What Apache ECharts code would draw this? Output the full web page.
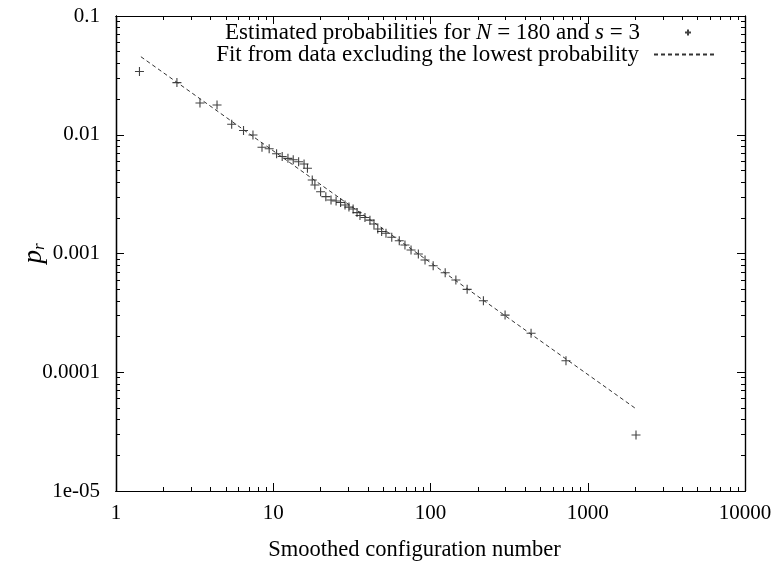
<!DOCTYPE html>
<html lang="en">

<head>
    <meta charset="UTF-8">
    <title>Smoothed configuration probabilities</title>
    <script src="https://cdn.jsdelivr.net/npm/echarts@6.0.0/dist/echarts.min.js"></script>
    <style>
        html, body { margin: 0; padding: 0; background: #fff; }
        #chart { width: 778px; height: 566px; }
    </style>
</head>

<body>
    <div id="chart"></div>

    <script>
    // estimated probabilities
    const configNumber = [1.41, 2.44, 3.42, 4.39, 5.44, 6.47, 7.43, 8.48, 9.42, 10.5, 11.4, 12.4, 13.4, 14.5,
        15.7, 16.5, 17.7, 18.4, 20.0, 21.6, 23.3, 25.1, 26.8, 28.6, 30.3, 32.2, 34.1, 35.6, 38.3, 41.2,
        43.7, 46.2, 48.9, 52.1, 56.7, 63.3, 68.8, 75.2, 83.7, 92.3, 104, 124, 145, 171, 217, 298, 436, 727, 2027];
    const probability = [0.0341, 0.0275, 0.0185, 0.0178, 0.01225, 0.01086, 0.00995, 0.00784, 0.00763, 0.00692,
        0.00656, 0.00633, 0.00616, 0.00593, 0.00567, 0.00522, 0.00416, 0.00377, 0.00331, 0.00301, 0.00282,
        0.00277, 0.00269, 0.00256, 0.00246, 0.00237, 0.00221, 0.00209, 0.00201, 0.00191, 0.00177, 0.00161,
        0.00153, 0.00148, 0.00137, 0.00128, 0.00118, 0.00107, 0.00099, 0.000881, 0.000789, 0.000689,
        0.000598, 0.000499, 0.000400, 0.000303, 0.000213, 0.000125, 0.0000296];

    // fitted power law, end points
    const fitX = [1.44, 2007];
    const fitY = [0.0454, 0.0000497];

    const xTicks = [1, 10, 100, 1000, 10000];
    const xTickLabels = ['1', '10', '100', '1000', '10000'];
    const yTicks = [0.00001, 0.0001, 0.001, 0.01, 0.1];
    const yTickLabels = ['1e-05', '0.0001', '0.001', '0.01', '0.1'];

    // tick positions in log10 space (for the plain value axes that draw the ticks)
    function majorLog(decades) {
        return decades.map(d => Math.log10(d));
    }
    function minorLog(decades) {
        let out = [];
        for (let i = 0; i < decades.length - 1; i++) {
            for (let k = 2; k < 10; k++) out.push(Math.log10(decades[i]) + Math.log10(k));
        }
        return out;
    }

    function tickLabel(ticks, labels) {
        return function (v) {
            for (let i = 0; i < ticks.length; i++) {
                if (Math.abs(Math.log10(ticks[i]) - Math.log10(v)) < 1e-6) return labels[i];
            }
            return '';
        };
    }

    const font = 'Liberation Serif';
    const black = '#000';

    function tickAxis(decades, pos, ticks, len) {
        return {
            type: 'value',
            gridIndex: 0,
            position: pos,
            min: Math.log10(decades[0]),
            max: Math.log10(decades[decades.length - 1]),
            axisLine: { show: true, onZero: false, lineStyle: { color: black, width: 1.2 } },
            axisTick: { show: true, inside: true, length: len, customValues: ticks, lineStyle: { color: black, width: 1 } },
            axisLabel: { show: false },
            splitLine: { show: false }
        };
    }

    const xAxes = [
        {
            type: 'log',
            logBase: 10,
            gridIndex: 0,
            position: 'bottom',
            min: xTicks[0],
            max: xTicks[xTicks.length - 1],
            axisLine: { show: true, lineStyle: { color: black, width: 1.2 } },
            axisTick: { show: false },
            splitLine: { show: false },
            axisLabel: {
                customValues: xTicks,
                formatter: tickLabel(xTicks, xTickLabels),
                fontFamily: font, fontSize: 21, color: black, margin: 12
            },
            name: 'Smoothed configuration number',
            nameLocation: 'middle',
            nameGap: 48,
            nameTextStyle: { fontFamily: font, fontSize: 22.5, color: black, padding: [0, 32, 0, 0] }
        },
        tickAxis(xTicks, 'bottom', majorLog(xTicks), 8),
        tickAxis(xTicks, 'bottom', minorLog(xTicks), 4),
        tickAxis(xTicks, 'top', majorLog(xTicks), 8),
        tickAxis(xTicks, 'top', minorLog(xTicks), 4)
    ];

    const yAxes = [
        {
            type: 'log',
            logBase: 10,
            gridIndex: 0,
            position: 'left',
            min: yTicks[0],
            max: yTicks[yTicks.length - 1],
            axisLine: { show: true, lineStyle: { color: black, width: 1.2 } },
            axisTick: { show: false },
            splitLine: { show: false },
            axisLabel: {
                customValues: yTicks,
                formatter: tickLabel(yTicks, yTickLabels),
                fontFamily: font, fontSize: 21, color: black, margin: 16
            },
            name: '{p|p}{r|r}',
            nameLocation: 'middle',
            nameGap: 68,
            nameMoveOverlap: false,
            nameRotate: 90,
            nameTextStyle: {
                fontFamily: font,
                color: black,
                rich: {
                    p: { fontFamily: font, fontStyle: 'italic', fontSize: 27, color: black },
                    r: { fontFamily: font, fontStyle: 'italic', fontSize: 17, color: black, padding: [12, 0, 0, 0] }
                }
            }
        },
        tickAxis(yTicks, 'left', majorLog(yTicks), 8),
        tickAxis(yTicks, 'left', minorLog(yTicks), 4),
        tickAxis(yTicks, 'right', majorLog(yTicks), 8),
        tickAxis(yTicks, 'right', minorLog(yTicks), 4)
    ];

    const legendRich = {
        i: { fontFamily: font, fontStyle: 'italic', fontSize: 23, color: black }
    };
    const legendText = {
        'Estimated': 'Estimated probabilities for {i|N} = 180 and {i|s} = 3',
        'Fit': 'Fit from data excluding the lowest probability'
    };

    const plusPath = 'path://M0,5L10,5M5,0L5,10';

    const option = {
        animation: false,
        backgroundColor: '#fff',
        grid: { left: 116, right: 33, top: 16, bottom: 75, outerBoundsMode: 'none' },
        legend: [
            {
                data: ['Estimated'],
                orient: 'vertical',
                right: 81,
                top: 16,
                align: 'right',
                itemWidth: 60,
                itemHeight: 6,
                formatter: (n) => legendText[n],
                textStyle: { fontFamily: font, fontSize: 23, color: black, padding: [0, 13, 0, 0], rich: legendRich }
            },
            {
                data: ['Fit'],
                orient: 'vertical',
                right: 58,
                top: 38,
                align: 'right',
                itemWidth: 60,
                itemHeight: 10,
                itemStyle: { opacity: 0 },
                formatter: (n) => legendText[n],
                textStyle: { fontFamily: font, fontSize: 23, color: black, padding: [0, 10, 0, 0], rich: legendRich }
            }
        ],
        xAxis: xAxes,
        yAxis: yAxes,
        series: [
            {
                name: 'Estimated',
                type: 'scatter',
                xAxisIndex: 0,
                yAxisIndex: 0,
                symbol: plusPath,
                symbolSize: 9,
                itemStyle: { color: '#111', borderColor: '#111', borderWidth: 1.1 },
                data: configNumber.map((x, i) => [x, probability[i]])
            },
            {
                name: 'Fit',
                type: 'line',
                xAxisIndex: 0,
                yAxisIndex: 0,
                symbol: 'none',
                lineStyle: { color: '#333', width: 1, type: [4, 3] },
                itemStyle: { color: '#333' },
                data: fitX.map((x, i) => [x, fitY[i]])
            }
        ]
    };

    var chart = echarts.init(document.getElementById('chart'));
    chart.setOption(option);
    </script>
</body>

</html>
